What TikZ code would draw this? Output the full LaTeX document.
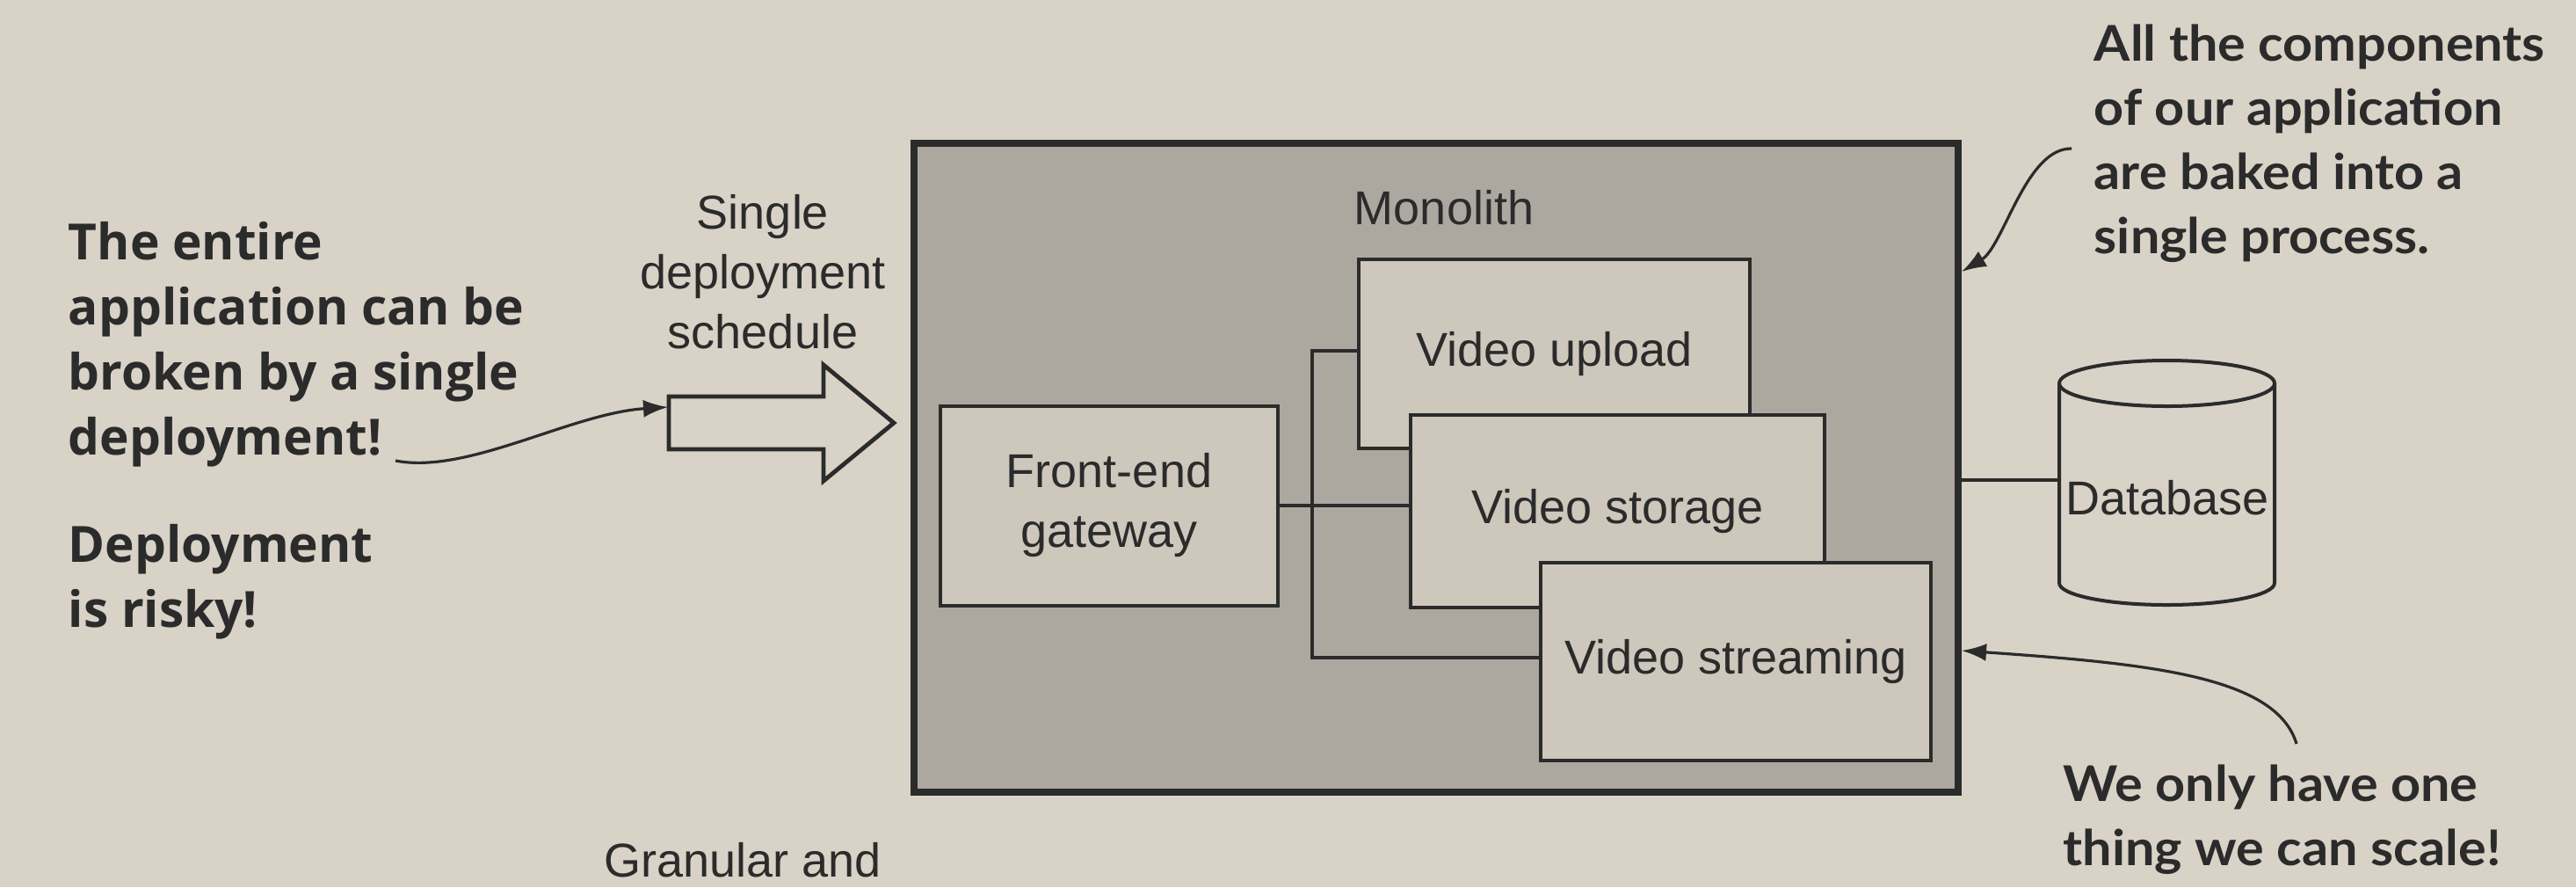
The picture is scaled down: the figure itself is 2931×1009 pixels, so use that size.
\documentclass[tikz,border=0pt]{standalone}
\usepackage{fontspec}
\setmainfont{Liberation Sans}
\newfontfamily\annfont[FakeStretch=1.06]{Lato}
\newfontfamily\condfont{Open Sans}
\usetikzlibrary{arrows.meta}
\definecolor{bg}{HTML}{D8D2C7}
\definecolor{monofill}{HTML}{ADA89F}
\definecolor{boxfill}{HTML}{CDC7BC}
\definecolor{ink}{HTML}{2B2B2B}
\begin{document}
\begin{tikzpicture}[x=0.25pt,y=-0.25pt,
  lbl/.style={font=\fontsize{13.5}{17}\selectfont, text=ink, inner sep=0pt, align=center},
  comp/.style={draw=ink, line width=1pt, fill=boxfill, lbl},
  wire/.style={draw=ink, line width=0.9pt},
  note/.style={draw=ink, line width=0.8pt, -{Latex[length=7pt,width=5pt]}},
  ann/.style={text=ink, inner sep=0pt, align=left, anchor=north west},
  annR/.style={ann, font=\annfont\bfseries\fontsize{14}{18.25}\selectfont},
  annL/.style={ann, font=\condfont\bfseries\fontsize{14.2}{18.5}\selectfont}
]
\fill[bg] (0,0) rectangle (2931,1009);
\useasboundingbox (0,0) rectangle (2931,1009);

% monolith
\node[draw=ink, line width=2pt, fill=monofill, minimum width=297pt, minimum height=184.5pt, inner sep=0pt] (mono) at (1634,532) {};
\node[lbl] (monolbl) at (1643,236) {Monolith};

% components
\node[comp, minimum width=111.25pt, minimum height=53.75pt] (up) at (1768.5,402.5) {Video upload};
\node[comp, minimum width=117.75pt, minimum height=54.75pt] (sg) at (1840.5,581.5) {Video storage};
\node[comp, minimum width=111pt, minimum height=56.25pt] (sm) at (1975,752.5) {Video streaming};
\node[comp, minimum width=96pt, minimum height=56.75pt] (gw) at (1262,575) {Front-end\\gateway};

\coordinate (jt) at (1493,399);
\coordinate (jb) at (1493,748);
\draw[wire] (up.west |- jt) -- (jt) -- (jb) -- (sm.west |- jb);
\draw[wire] (gw.east) -- (sg.west |- gw.east);

% database
\node[minimum width=61.25pt, minimum height=69.5pt, inner sep=0pt] (db) at (2465.5,546) {};
\draw[ink, line width=1pt] (2343,436) -- (2343,663) arc[start angle=180, end angle=0, x radius=122.5, y radius=25] -- (2588,436);
\draw[ink, line width=1pt] (2465.5,436) ellipse [x radius=122.5, y radius=26];
\node[lbl] (dbtext) at (2466,566) {Database};
\draw[wire] (db.west -| mono.east) -- (db.west);

% block arrow
\draw[ink, line width=1.2pt, fill=bg, line join=miter] (761,451) -- (937,451) -- (937,415) -- (1017,481) -- (937,547) -- (937,511) -- (761,511) -- cycle;
\node[lbl] (sched) at (868,309) {Single\\deployment\\schedule};

% annotations
\node[annL] (risk1) at (77,252) {The entire\\application can be\\broken by a single\\deployment!};
\node[annL] (risk2) at (77,596) {Deployment\\is risky!};
\node[annR] (baked) at (2382,27) {All the components\\of our application\\are baked into a\\single process.};
\node[annR] (scale) at (2347,869) {We only have one\\thing we can scale!};
\node[lbl] (gran) at (845,978) {Granular and};

\coordinate (c1s) at (450,524);
\coordinate (c1e) at (760,463);
\draw[note] (c1s) .. controls (532,540) and (650,470) .. (c1e);
\coordinate (c2s) at (2357,169);
\coordinate (c2e) at (2232,309);
\draw[note] (c2s) .. controls (2305,168) and (2280,280) .. (c2e);
\coordinate (c3s) at (2613,846);
\coordinate (c3e) at (2232,740);
\draw[note] (c3s) .. controls (2590,770) and (2450,755) .. (c3e);
\end{tikzpicture}
\end{document}
